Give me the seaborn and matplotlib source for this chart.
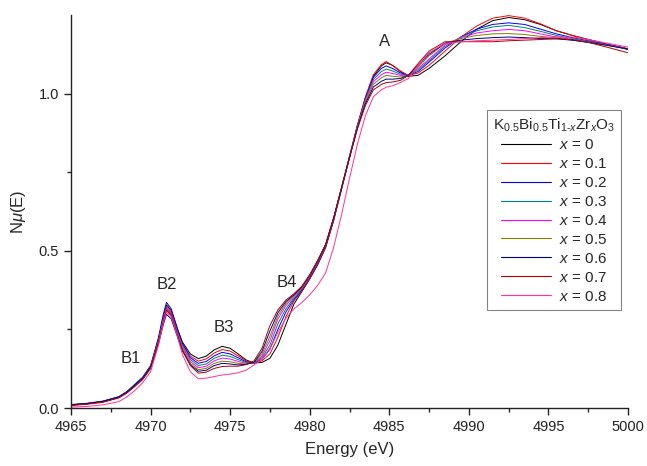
import numpy as np
import pandas as pd
import matplotlib
matplotlib.use("Agg")
import matplotlib.pyplot as plt
import seaborn as sns
from matplotlib.ticker import MultipleLocator, FixedLocator
from matplotlib.lines import Line2D

energy = [4965, 4966, 4967, 4968, 4968.5, 4969, 4969.5, 4970, 4970.5, 4970.8,
          4971, 4971.3, 4971.7, 4972, 4972.5, 4973, 4973.5, 4974, 4974.5, 4975,
          4975.5, 4976, 4976.5, 4977, 4977.5, 4978, 4978.5, 4979, 4979.5, 4980,
          4980.5, 4981, 4981.5, 4982, 4982.5, 4983, 4983.5, 4984, 4984.5, 4984.8,
          4985.2, 4985.7, 4986.2, 4986.8, 4987.5, 4988.5, 4989.5, 4990.5, 4991.5,
          4992.5, 4993.5, 4994.5, 4995.5, 4996.5, 4997.5, 4998.5, 5000]

# rows: energy points; columns: x = 0 ... 0.8
rows = [
    [0.010, 0.010, 0.011, 0.010, 0.009, 0.009, 0.010, 0.008, 0.003],
    [0.014, 0.014, 0.015, 0.014, 0.013, 0.013, 0.014, 0.012, 0.005],
    [0.020, 0.020, 0.022, 0.021, 0.020, 0.019, 0.021, 0.018, 0.010],
    [0.034, 0.034, 0.036, 0.035, 0.034, 0.033, 0.035, 0.032, 0.020],
    [0.050, 0.050, 0.052, 0.050, 0.049, 0.048, 0.050, 0.047, 0.035],
    [0.072, 0.072, 0.075, 0.073, 0.071, 0.070, 0.072, 0.068, 0.055],
    [0.095, 0.095, 0.098, 0.096, 0.094, 0.093, 0.095, 0.090, 0.080],
    [0.130, 0.130, 0.135, 0.132, 0.130, 0.128, 0.130, 0.125, 0.115],
    [0.220, 0.218, 0.225, 0.215, 0.212, 0.210, 0.205, 0.210, 0.200],
    [0.290, 0.285, 0.298, 0.282, 0.278, 0.275, 0.265, 0.275, 0.270],
    [0.328, 0.322, 0.336, 0.318, 0.315, 0.310, 0.298, 0.312, 0.305],
    [0.310, 0.305, 0.315, 0.300, 0.297, 0.293, 0.283, 0.295, 0.290],
    [0.250, 0.245, 0.250, 0.240, 0.235, 0.232, 0.225, 0.232, 0.225],
    [0.210, 0.205, 0.205, 0.198, 0.193, 0.188, 0.182, 0.185, 0.170],
    [0.172, 0.165, 0.160, 0.154, 0.148, 0.142, 0.137, 0.135, 0.115],
    [0.157, 0.149, 0.142, 0.135, 0.128, 0.122, 0.117, 0.111, 0.093],
    [0.165, 0.156, 0.148, 0.140, 0.133, 0.126, 0.120, 0.114, 0.095],
    [0.185, 0.175, 0.166, 0.158, 0.150, 0.142, 0.135, 0.126, 0.100],
    [0.196, 0.186, 0.177, 0.168, 0.159, 0.149, 0.142, 0.132, 0.105],
    [0.190, 0.181, 0.172, 0.164, 0.156, 0.147, 0.140, 0.133, 0.108],
    [0.172, 0.166, 0.160, 0.154, 0.148, 0.142, 0.137, 0.133, 0.112],
    [0.153, 0.150, 0.147, 0.145, 0.142, 0.140, 0.139, 0.138, 0.120],
    [0.143, 0.143, 0.143, 0.143, 0.143, 0.143, 0.145, 0.150, 0.137],
    [0.145, 0.150, 0.155, 0.160, 0.165, 0.172, 0.180, 0.190, 0.155],
    [0.158, 0.172, 0.187, 0.200, 0.215, 0.228, 0.245, 0.262, 0.190],
    [0.200, 0.225, 0.250, 0.268, 0.283, 0.293, 0.303, 0.312, 0.240],
    [0.265, 0.290, 0.305, 0.315, 0.325, 0.332, 0.338, 0.343, 0.285],
    [0.330, 0.340, 0.345, 0.350, 0.355, 0.358, 0.360, 0.363, 0.315],
    [0.370, 0.372, 0.375, 0.378, 0.380, 0.382, 0.385, 0.387, 0.335],
    [0.410, 0.412, 0.415, 0.417, 0.418, 0.420, 0.422, 0.424, 0.360],
    [0.455, 0.458, 0.460, 0.462, 0.464, 0.466, 0.468, 0.470, 0.390],
    [0.510, 0.512, 0.515, 0.517, 0.518, 0.520, 0.520, 0.520, 0.430],
    [0.595, 0.598, 0.600, 0.602, 0.603, 0.604, 0.604, 0.604, 0.510],
    [0.695, 0.698, 0.700, 0.700, 0.700, 0.700, 0.700, 0.700, 0.615],
    [0.795, 0.798, 0.800, 0.800, 0.800, 0.800, 0.798, 0.796, 0.730],
    [0.895, 0.900, 0.900, 0.898, 0.896, 0.894, 0.891, 0.888, 0.840],
    [0.985, 0.990, 0.986, 0.982, 0.978, 0.974, 0.968, 0.962, 0.930],
    [1.055, 1.060, 1.052, 1.045, 1.038, 1.030, 1.021, 1.012, 0.990],
    [1.088, 1.092, 1.080, 1.070, 1.060, 1.050, 1.039, 1.029, 1.012],
    [1.098, 1.102, 1.088, 1.078, 1.068, 1.058, 1.046, 1.035, 1.020],
    [1.090, 1.090, 1.080, 1.072, 1.064, 1.055, 1.046, 1.037, 1.025],
    [1.070, 1.072, 1.066, 1.062, 1.058, 1.053, 1.048, 1.042, 1.035],
    [1.055, 1.058, 1.058, 1.058, 1.058, 1.058, 1.058, 1.058, 1.048],
    [1.058, 1.065, 1.070, 1.075, 1.080, 1.085, 1.090, 1.095, 1.090],
    [1.080, 1.090, 1.100, 1.105, 1.110, 1.120, 1.125, 1.135, 1.130],
    [1.120, 1.135, 1.145, 1.150, 1.155, 1.160, 1.160, 1.165, 1.160],
    [1.165, 1.180, 1.180, 1.180, 1.178, 1.175, 1.170, 1.165, 1.165],
    [1.205, 1.215, 1.205, 1.200, 1.193, 1.185, 1.175, 1.165, 1.168],
    [1.232, 1.240, 1.220, 1.212, 1.200, 1.190, 1.178, 1.165, 1.170],
    [1.242, 1.248, 1.225, 1.217, 1.204, 1.191, 1.180, 1.168, 1.172],
    [1.235, 1.240, 1.220, 1.210, 1.200, 1.188, 1.178, 1.170, 1.175],
    [1.220, 1.222, 1.205, 1.198, 1.190, 1.182, 1.175, 1.172, 1.178],
    [1.200, 1.200, 1.190, 1.185, 1.180, 1.177, 1.174, 1.175, 1.180],
    [1.185, 1.185, 1.178, 1.175, 1.172, 1.170, 1.170, 1.172, 1.180],
    [1.172, 1.172, 1.168, 1.166, 1.164, 1.163, 1.163, 1.163, 1.172],
    [1.160, 1.160, 1.158, 1.157, 1.156, 1.155, 1.155, 1.150, 1.162],
    [1.140, 1.143, 1.142, 1.142, 1.142, 1.142, 1.142, 1.130, 1.148],
]

series = ["0", "0.1", "0.2", "0.3", "0.4", "0.5", "0.6", "0.7", "0.8"]
colors = ["#000000", "#FF0000", "#0000FF", "#008080", "#FF00FF",
          "#808000", "#000080", "#B00000", "#FF3399"]

peak_labels = ["B1", "B2", "B3", "B4", "A"]
peak_E = [4968.77, 4971.0, 4974.6, 4978.58, 4984.67]
peak_y = [0.159, 0.392, 0.255, 0.40, 1.166]

records = []
for j, s in enumerate(series):
    for i, e in enumerate(energy):
        records.append({"E": e, "mu": rows[i][j], "x": s})
df = pd.DataFrame(records)

sns.set_style("ticks")
plt.rcParams["font.family"] = ["Liberation Sans", "DejaVu Sans"]
plt.rcParams["mathtext.fontset"] = "custom"
plt.rcParams["mathtext.rm"] = "Liberation Sans"
plt.rcParams["mathtext.it"] = "Liberation Sans:italic"
plt.rcParams["mathtext.bf"] = "Liberation Sans:bold"

fig = plt.figure(figsize=(6.47, 4.66), dpi=100)
ax = fig.add_axes([71 / 647, 58 / 466, 557 / 647, 393 / 466])

sns.lineplot(data=df, x="E", y="mu", hue="x", palette=dict(zip(series, colors)),
             estimator=None, sort=False, linewidth=0.7, ax=ax, legend=False)

ax.set_xlim(4965, 5000)
ax.set_ylim(0, 1.25)
ax.xaxis.set_major_locator(MultipleLocator(5))
ax.xaxis.set_minor_locator(MultipleLocator(2.5))
ax.yaxis.set_major_locator(FixedLocator([0, 0.5, 1.0]))
ax.yaxis.set_minor_locator(FixedLocator([0.25, 0.75]))
ax.set_yticklabels(["0.0", "0.5", "1.0"])
ax.tick_params(which="major", direction="out", length=5, width=1, labelsize=10.5, colors="#222222")
ax.tick_params(which="minor", direction="out", length=3, width=1)
for sp in ["left", "bottom"]:
    ax.spines[sp].set_linewidth(1)
    ax.spines[sp].set_color("#222222")
sns.despine(ax=ax)

ax.set_xlabel("Energy (eV)", fontsize=12, labelpad=6)
ax.set_ylabel(r"N$\mu$(E)", fontsize=12, labelpad=8)

for lab, e, y in zip(peak_labels, peak_E, peak_y):
    ax.text(e, y, lab, fontsize=12, ha="center", va="center")

handles = [Line2D([], [], color=c, lw=0.8) for c in colors]
labels = [r"$x$ = " + s for s in series]
leg = ax.legend(handles, labels,
                title=r"K$_{0.5}$Bi$_{0.5}$Ti$_{1\text{-}x}$Zr$_x$O$_3$",
                loc="upper right", bbox_to_anchor=(550 / 557, 298 / 393),
                borderaxespad=0, fontsize=11, title_fontsize=11,
                frameon=True, fancybox=False, edgecolor="#666666",
                handlelength=3.3, labelspacing=0.32, handletextpad=0.5,
                borderpad=0.4)
leg.get_frame().set_linewidth(0.8)

fig.savefig("out.png", dpi=100)
